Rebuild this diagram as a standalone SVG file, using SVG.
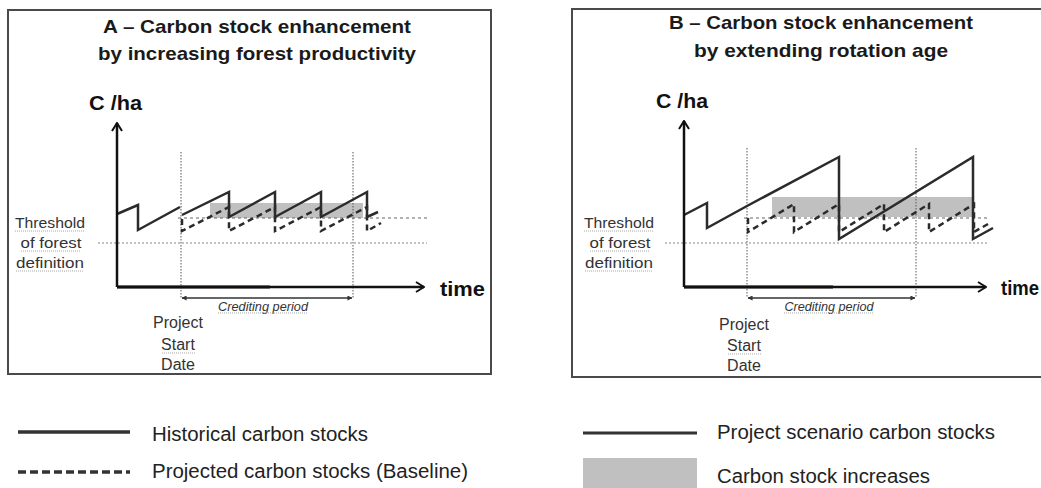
<svg xmlns="http://www.w3.org/2000/svg" width="1041" height="488" viewBox="0 0 1041 488">
<style>
.frame{fill:#fff;stroke:#4a4a4a;stroke-width:2}
.title{font-family:"Liberation Sans",Arial,sans-serif;font-weight:bold;font-size:19px;fill:#1a1a1a}
.axlab{font-family:"Liberation Sans",Arial,sans-serif;font-weight:bold;font-size:20px;fill:#111}
.lbl{font-family:"Liberation Sans",Arial,sans-serif;font-size:15px;fill:#333}
.psd{font-family:"Liberation Sans",Arial,sans-serif;font-size:16px;fill:#333}
.cred{font-family:"Liberation Sans",Arial,sans-serif;font-style:italic;font-size:12px;fill:#333}
.leg{font-family:"Liberation Sans",Arial,sans-serif;font-size:20px;fill:#222}
.axis{fill:none;stroke:#111;stroke-width:2.5}
.saw{fill:none;stroke:#2b2b2b;stroke-width:2.5;stroke-linejoin:miter}
.base{fill:none;stroke:#2b2b2b;stroke-width:2.5;stroke-dasharray:6 4}
.vdot{fill:none;stroke:#555;stroke-width:1;stroke-dasharray:1.5 1.5}
.thr{fill:none;stroke:#888;stroke-width:1.2;stroke-dasharray:2 2}
.lvl{fill:none;stroke:#666;stroke-width:1.2;stroke-dasharray:3 3}
.incr{fill:#c0c0c0}
.brk{fill:none;stroke:#333;stroke-width:1.3}
.sq{fill:none;stroke:#aaa;stroke-width:1.2;stroke-dasharray:1 1}
</style>
<defs>
<marker id="axArrow" viewBox="0 0 10 12" refX="9" refY="6" markerWidth="10" markerHeight="12" markerUnits="userSpaceOnUse" orient="auto">
<path d="M1,1 L9,6 L1,11" fill="none" stroke="#111" stroke-width="2"/>
</marker>
<marker id="brkArrow" viewBox="0 0 6 6" refX="5.5" refY="3" markerWidth="5" markerHeight="5" markerUnits="userSpaceOnUse" orient="auto-start-reverse">
<path d="M0,0 L6,3 L0,6 Z" fill="#333"/>
</marker>
</defs>

<g id="panel-A">
<rect class="frame" x="8" y="10" width="483" height="364"/>
<text class="title" x="257" y="33" text-anchor="middle" textLength="308" lengthAdjust="spacingAndGlyphs">A – Carbon stock enhancement</text>
<text class="title" x="257" y="60" text-anchor="middle" textLength="318" lengthAdjust="spacingAndGlyphs">by increasing forest productivity</text>
<text class="axlab" x="89" y="110" textLength="53" lengthAdjust="spacingAndGlyphs">C /ha</text>
<text class="axlab" x="440" y="296" font-size="21" textLength="45" lengthAdjust="spacingAndGlyphs">time</text>
<rect class="incr" x="210" y="203" width="153" height="15"/>
<line class="thr" x1="98" y1="243" x2="427" y2="243"/>
<line class="lvl" x1="178" y1="218" x2="427" y2="218"/>
<line class="vdot" x1="181" y1="152" x2="181" y2="298"/>
<line class="vdot" x1="353" y1="152" x2="353" y2="298"/>
<path class="saw" d="M117,214 L138,205 L138,230 L180,207"/>
<path class="saw" d="M182,215 L229,192 L229,217 L275,192 L275,217 L321,192 L321,217 L367,192 L367,217 L378,212"/>
<path class="base" d="M182,219 L182,231 L229,207 L229,231 L275,207 L275,231 L321,207 L321,231 L367,207 L367,231 L381,223"/>
<path class="axis" d="M117,287 L117,123" marker-end="url(#axArrow)"/>
<path class="axis" d="M117,287 L424,287" marker-end="url(#axArrow)"/>
<line x1="117" y1="287" x2="270" y2="287" stroke="#111" stroke-width="3.2"/>
<line class="brk" x1="182" y1="298" x2="352" y2="298" marker-start="url(#brkArrow)" marker-end="url(#brkArrow)"/>
<text class="cred" x="263" y="311" text-anchor="middle" textLength="90" lengthAdjust="spacingAndGlyphs">Crediting period</text>
<line class="sq" x1="218" y1="313" x2="308" y2="313"/>
<text class="lbl" x="50" y="228" text-anchor="middle" textLength="70" lengthAdjust="spacingAndGlyphs">Threshold</text>
<text class="lbl" x="51" y="248" text-anchor="middle" textLength="61" lengthAdjust="spacingAndGlyphs">of forest</text>
<text class="lbl" x="50" y="268" text-anchor="middle" textLength="68" lengthAdjust="spacingAndGlyphs">definition</text>
<line class="sq" x1="15" y1="231" x2="85" y2="231"/>
<line class="sq" x1="21" y1="251" x2="81" y2="251"/>
<line class="sq" x1="16" y1="271" x2="84" y2="271"/>
<text class="psd" x="178" y="328" text-anchor="middle">Project</text>
<text class="psd" x="178" y="350" text-anchor="middle">Start</text>
<text class="psd" x="178" y="370" text-anchor="middle">Date</text>
<line class="sq" x1="162" y1="353" x2="195" y2="353"/>
</g>

<g id="panel-B">
<rect class="frame" x="572" y="9" width="480" height="368"/>
<text class="title" x="821" y="29" text-anchor="middle" textLength="304" lengthAdjust="spacingAndGlyphs">B – Carbon stock enhancement</text>
<text class="title" x="821" y="57" text-anchor="middle" textLength="254" lengthAdjust="spacingAndGlyphs">by extending rotation age</text>
<text class="axlab" x="656" y="108" textLength="52" lengthAdjust="spacingAndGlyphs">C /ha</text>
<text class="axlab" x="1001" y="295" font-size="21" textLength="38" lengthAdjust="spacingAndGlyphs">time</text>
<rect class="incr" x="772" y="197" width="201" height="20"/>
<line class="thr" x1="665" y1="243" x2="988" y2="243"/>
<line class="lvl" x1="744" y1="218" x2="988" y2="218"/>
<line class="vdot" x1="747" y1="148" x2="747" y2="298"/>
<line class="vdot" x1="916" y1="148" x2="916" y2="298"/>
<path class="saw" d="M684,215 L707,203 L707,228 L747,206 L839,157 L839,239 L973,157 L973,239 L993,228"/>
<path class="base" d="M748,218 L748,232 L794,204 L794,232 L839,204 L839,232 L884,204 L884,232 L929,204 L929,232 L974,204 L974,232 L988,224"/>
<path class="axis" d="M684,287 L684,121" marker-end="url(#axArrow)"/>
<path class="axis" d="M684,287 L986,287" marker-end="url(#axArrow)"/>
<line x1="684" y1="287" x2="833" y2="287" stroke="#111" stroke-width="3.2"/>
<line class="brk" x1="748" y1="298" x2="915" y2="298" marker-start="url(#brkArrow)" marker-end="url(#brkArrow)"/>
<text class="cred" x="829" y="311" text-anchor="middle" textLength="89" lengthAdjust="spacingAndGlyphs">Crediting period</text>
<line class="sq" x1="784" y1="313" x2="873" y2="313"/>
<text class="lbl" x="619" y="228" text-anchor="middle" textLength="70" lengthAdjust="spacingAndGlyphs">Threshold</text>
<text class="lbl" x="620" y="248" text-anchor="middle" textLength="61" lengthAdjust="spacingAndGlyphs">of forest</text>
<text class="lbl" x="619" y="268" text-anchor="middle" textLength="68" lengthAdjust="spacingAndGlyphs">definition</text>
<line class="sq" x1="584" y1="231" x2="654" y2="231"/>
<line class="sq" x1="590" y1="251" x2="650" y2="251"/>
<line class="sq" x1="585" y1="271" x2="653" y2="271"/>
<text class="psd" x="744" y="330" text-anchor="middle">Project</text>
<text class="psd" x="744" y="351" text-anchor="middle">Start</text>
<text class="psd" x="744" y="371" text-anchor="middle">Date</text>
<line class="sq" x1="728" y1="354" x2="761" y2="354"/>
</g>

<g id="legend">
<g id="legend-historical">
<line x1="18" y1="432" x2="130" y2="432" stroke="#333" stroke-width="3.5"/>
<text class="leg" x="152" y="441" textLength="216" lengthAdjust="spacingAndGlyphs">Historical carbon stocks</text>
</g>
<g id="legend-baseline">
<line x1="18" y1="472" x2="130" y2="472" stroke="#333" stroke-width="3.5" stroke-dasharray="8 4"/>
<text class="leg" x="152" y="478" textLength="316" lengthAdjust="spacingAndGlyphs">Projected carbon stocks (Baseline)</text>
</g>
<g id="legend-project">
<line x1="583" y1="433" x2="697" y2="433" stroke="#333" stroke-width="3"/>
<text class="leg" x="717" y="439" textLength="278" lengthAdjust="spacingAndGlyphs">Project scenario carbon stocks</text>
</g>
<g id="legend-increase">
<rect class="incr" x="583" y="458" width="114" height="30"/>
<text class="leg" x="717" y="483" textLength="213" lengthAdjust="spacingAndGlyphs">Carbon stock increases</text>
</g>
</g>
</svg>
